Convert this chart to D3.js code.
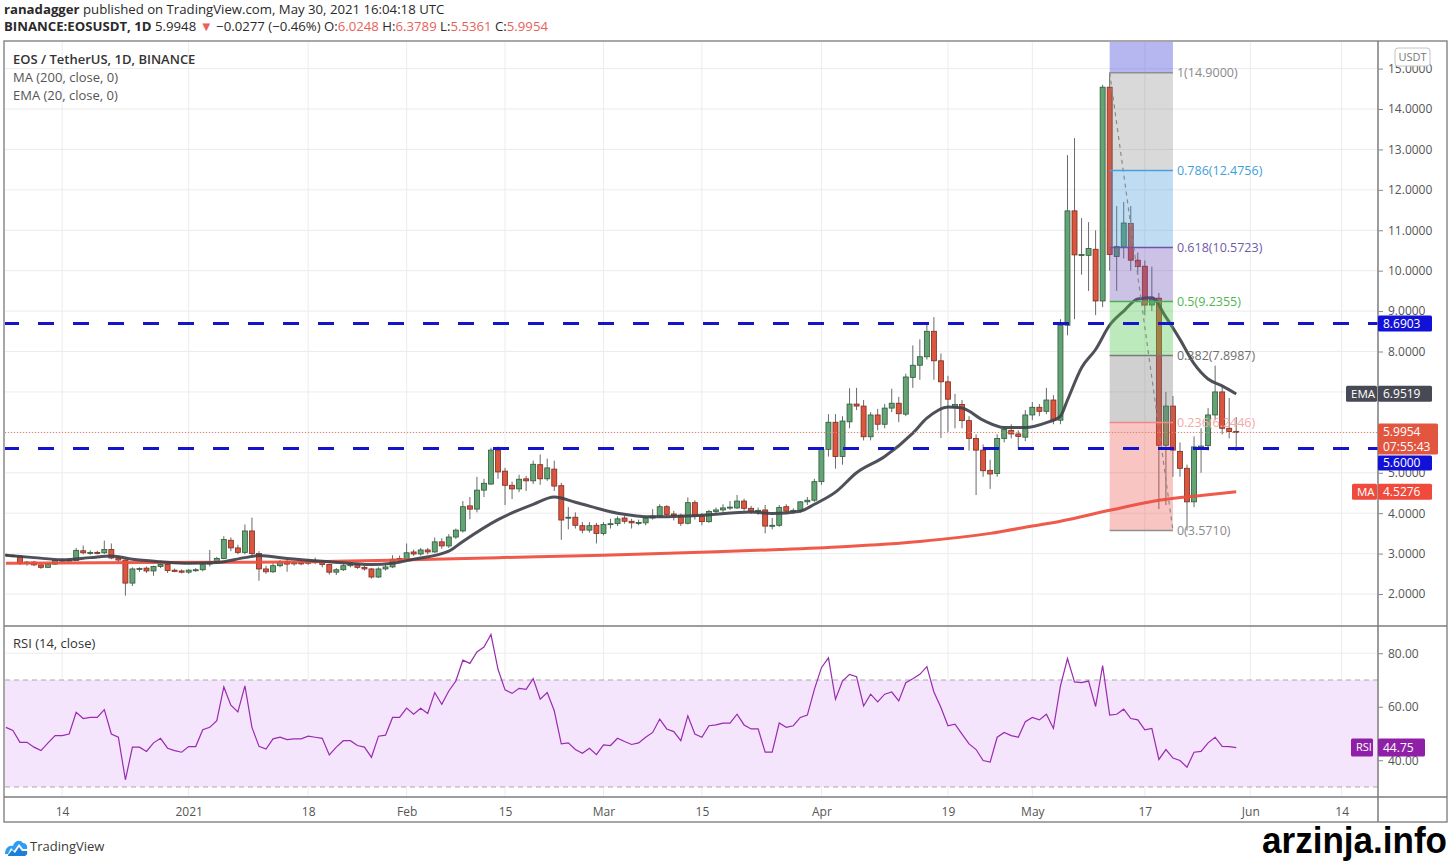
<!DOCTYPE html>
<html>
<head>
<meta charset="utf-8">
<script src="https://cdn.jsdelivr.net/npm/d3@7"></script>
<style>
  html, body { margin: 0; padding: 0; background: #fff; }
  svg { display: block; font-family: "Open Sans", "Noto Sans", sans-serif; }
</style>
</head>
<body>
<script>
var W = 1450, H = 864;

// first candle date; one candle per day
var firstDay = '2020-12-06';

// daily [open, high, low, close], Dec 6 2020 .. May 30 2021
var candles = [
  [2.97, 3.00, 2.93, 2.95], [2.95, 2.98, 2.91, 2.94], [2.94, 2.96, 2.72, 2.76], [2.76, 2.82, 2.70, 2.79],
  [2.79, 2.82, 2.69, 2.72], [2.72, 2.74, 2.62, 2.66], [2.66, 2.76, 2.64, 2.74], [2.74, 2.85, 2.72, 2.83],
  [2.83, 2.87, 2.79, 2.84], [2.84, 2.88, 2.80, 2.83], [2.83, 3.14, 2.82, 3.08], [3.07, 3.20, 2.98, 3.02],
  [3.02, 3.08, 2.97, 3.03], [3.03, 3.07, 2.98, 3.02], [3.02, 3.32, 2.99, 3.10], [3.10, 3.25, 2.86, 2.89],
  [2.89, 2.95, 2.80, 2.84], [2.84, 2.86, 1.96, 2.27], [2.27, 2.66, 2.20, 2.62], [2.62, 2.66, 2.55, 2.63],
  [2.64, 2.68, 2.52, 2.57], [2.57, 2.70, 2.45, 2.68], [2.68, 2.82, 2.64, 2.73], [2.73, 2.76, 2.52, 2.58],
  [2.59, 2.63, 2.54, 2.56], [2.57, 2.61, 2.51, 2.54], [2.54, 2.62, 2.50, 2.59], [2.59, 2.64, 2.55, 2.60],
  [2.60, 2.78, 2.56, 2.74], [2.74, 3.09, 2.68, 2.78], [2.78, 2.92, 2.74, 2.88], [2.88, 3.43, 2.86, 3.35],
  [3.33, 3.40, 3.06, 3.14], [3.14, 3.22, 2.98, 3.03], [3.03, 3.72, 2.98, 3.56], [3.56, 3.89, 2.95, 3.00],
  [3.00, 3.06, 2.33, 2.62], [2.62, 2.70, 2.50, 2.55], [2.55, 2.76, 2.52, 2.70], [2.70, 2.84, 2.66, 2.78],
  [2.80, 2.86, 2.55, 2.74], [2.76, 2.82, 2.70, 2.77], [2.77, 2.81, 2.71, 2.76], [2.76, 2.86, 2.72, 2.82],
  [2.82, 2.90, 2.74, 2.78], [2.78, 2.82, 2.66, 2.73], [2.73, 2.75, 2.48, 2.54], [2.54, 2.64, 2.47, 2.60],
  [2.60, 2.74, 2.57, 2.70], [2.70, 2.78, 2.66, 2.74], [2.73, 2.76, 2.62, 2.66], [2.66, 2.70, 2.58, 2.62],
  [2.62, 2.64, 2.38, 2.42], [2.42, 2.66, 2.40, 2.62], [2.62, 2.74, 2.58, 2.67], [2.67, 2.96, 2.64, 2.86],
  [2.88, 2.95, 2.80, 2.85], [2.86, 3.25, 2.82, 3.02], [3.04, 3.10, 2.94, 2.99], [2.99, 3.14, 2.95, 3.09],
  [3.09, 3.14, 2.98, 3.04], [3.04, 3.40, 3.02, 3.29], [3.29, 3.38, 3.12, 3.19], [3.19, 3.48, 3.14, 3.41],
  [3.41, 3.62, 3.36, 3.58], [3.56, 4.30, 3.52, 4.16], [4.18, 4.40, 3.85, 4.10], [4.10, 4.90, 4.02, 4.57],
  [4.57, 4.85, 4.40, 4.74], [4.72, 5.62, 4.70, 5.56], [5.56, 5.65, 4.85, 5.02], [5.04, 5.12, 4.20, 4.69],
  [4.69, 4.78, 4.35, 4.60], [4.60, 4.95, 4.52, 4.84], [4.85, 4.92, 4.55, 4.80], [4.80, 5.30, 4.72, 5.21],
  [5.20, 5.45, 4.70, 4.85], [4.85, 5.35, 4.80, 5.12], [5.09, 5.30, 4.55, 4.67], [4.68, 4.75, 3.34, 3.83],
  [3.88, 4.15, 3.60, 3.90], [3.90, 4.02, 3.62, 3.70], [3.69, 3.78, 3.50, 3.58], [3.58, 3.78, 3.52, 3.69],
  [3.70, 3.76, 3.25, 3.50], [3.50, 3.78, 3.45, 3.72], [3.72, 3.86, 3.62, 3.74], [3.74, 3.92, 3.68, 3.86],
  [3.88, 3.94, 3.74, 3.80], [3.80, 3.86, 3.62, 3.76], [3.76, 3.84, 3.70, 3.77], [3.76, 3.92, 3.70, 3.88],
  [3.88, 4.10, 3.84, 3.93], [3.93, 4.22, 3.88, 4.16], [4.16, 4.20, 3.92, 3.97], [3.98, 4.06, 3.82, 3.95],
  [3.95, 3.99, 3.68, 3.75], [3.75, 4.39, 3.72, 4.26], [4.26, 4.32, 3.84, 3.93], [3.93, 4.00, 3.70, 3.79],
  [3.79, 4.08, 3.76, 4.04], [4.04, 4.14, 3.96, 4.08], [4.08, 4.22, 4.02, 4.13], [4.13, 4.30, 4.08, 4.15],
  [4.13, 4.45, 4.10, 4.30], [4.30, 4.36, 4.06, 4.12], [4.12, 4.18, 3.98, 4.05], [4.05, 4.14, 3.96, 4.07],
  [4.08, 4.20, 3.50, 3.68], [3.68, 3.88, 3.60, 3.70], [3.70, 4.20, 3.66, 4.14], [4.16, 4.22, 4.00, 4.05],
  [4.05, 4.12, 3.98, 4.07], [4.07, 4.30, 4.02, 4.28], [4.28, 4.40, 4.20, 4.32], [4.32, 4.85, 4.28, 4.78],
  [4.78, 5.62, 4.70, 5.58], [5.58, 6.45, 5.40, 6.25], [6.25, 6.45, 5.10, 5.40], [5.40, 6.40, 5.20, 6.28],
  [6.26, 7.09, 6.10, 6.70], [6.70, 7.10, 6.55, 6.65], [6.65, 6.80, 5.80, 5.89], [5.89, 6.50, 5.80, 6.43],
  [6.43, 6.58, 6.05, 6.20], [6.20, 6.70, 6.10, 6.60], [6.60, 7.08, 6.50, 6.72], [6.72, 6.88, 6.25, 6.46],
  [6.45, 7.45, 6.40, 7.37], [7.36, 8.15, 7.10, 7.66], [7.66, 8.30, 7.30, 7.87], [7.87, 8.72, 7.80, 8.50],
  [8.50, 8.85, 7.30, 7.77], [7.77, 7.95, 5.86, 7.25], [7.25, 7.40, 6.01, 6.82], [6.62, 6.95, 6.10, 6.69],
  [6.69, 6.80, 6.10, 6.29], [6.29, 6.40, 5.55, 5.85], [5.85, 5.95, 4.45, 5.56], [5.56, 5.70, 4.90, 5.05],
  [5.06, 5.32, 4.60, 4.97], [4.98, 5.95, 4.90, 5.85], [5.85, 6.15, 5.75, 6.07], [6.05, 6.20, 5.85, 5.96],
  [5.96, 6.05, 5.60, 5.90], [5.88, 6.55, 5.78, 6.43], [6.43, 6.75, 6.30, 6.62], [6.62, 6.70, 6.40, 6.52],
  [6.52, 7.10, 6.45, 6.80], [6.80, 6.92, 6.20, 6.30], [6.30, 8.80, 6.20, 8.65], [8.65, 12.86, 8.40, 11.48],
  [11.48, 13.28, 8.80, 10.39], [10.38, 11.30, 9.90, 10.40], [10.38, 11.20, 9.50, 10.55], [10.53, 11.00, 8.90, 9.25],
  [9.25, 14.60, 9.10, 14.54], [14.54, 14.90, 10.00, 10.40], [10.35, 11.60, 9.50, 10.60], [10.59, 11.70, 10.30, 11.18],
  [11.17, 11.60, 10.00, 10.26], [10.26, 10.45, 9.90, 10.10], [10.11, 10.25, 8.90, 9.15], [9.15, 10.10, 9.00, 9.30],
  [9.32, 9.45, 4.10, 5.68], [5.68, 7.00, 4.20, 6.65], [6.65, 6.90, 4.90, 5.56], [5.53, 5.75, 4.90, 5.11],
  [5.11, 5.20, 3.571, 4.28], [4.28, 5.90, 4.15, 5.64], [5.62, 6.10, 5.00, 5.66], [5.67, 6.60, 5.55, 6.43],
  [6.43, 7.65, 6.30, 7.00], [7.00, 7.15, 5.95, 6.10], [6.10, 6.85, 5.85, 6.02], [6.0248, 6.3789, 5.5361, 5.9954]
];

// RSI(14) per candle
var rsi14 = [
  52.3, 51.1, 46.7, 46.7, 44.9, 43.6, 46.5, 49.2, 49.2, 49.8,
  57.9, 55.6, 56.0, 56.0, 58.9, 49.8, 48.6, 32.7, 44.9, 44.9,
  43.3, 46.5, 48.2, 44.5, 43.6, 43.0, 45.1, 45.1, 51.4, 52.3,
  54.8, 67.4, 60.6, 58.1, 67.8, 52.3, 45.2, 44.2, 48.0, 48.6,
  47.7, 48.0, 48.0, 49.0, 48.6, 48.2, 42.0, 44.9, 47.3, 47.3,
  45.5, 44.9, 41.1, 49.0, 49.4, 56.0, 56.0, 59.5, 57.2, 59.4,
  57.5, 65.3, 60.9, 65.9, 69.6, 77.4, 76.2, 80.5, 82.3, 87.0,
  74.0, 66.3, 65.0, 66.9, 66.5, 70.5, 62.8, 65.3, 58.5, 46.1,
  46.5, 44.0, 42.6, 44.5, 42.1, 45.7, 45.5, 48.2, 47.0, 45.9,
  46.5, 48.6, 50.4, 55.4, 51.7, 50.7, 47.3, 56.6, 49.8, 48.6,
  52.9, 53.2, 53.9, 53.9, 57.2, 53.2, 51.7, 51.7, 43.0, 43.0,
  53.9, 52.3, 52.9, 56.0, 56.9, 66.5, 74.6, 78.3, 62.8, 69.6,
  72.1, 71.2, 60.3, 64.7, 61.8, 64.7, 65.5, 62.2, 69.0, 70.5,
  72.1, 75.0, 65.5, 59.7, 52.9, 53.5, 49.8, 46.1, 44.0, 39.9,
  39.3, 48.6, 50.4, 49.2, 48.6, 54.4, 56.0, 55.1, 57.2, 51.9,
  67.8, 78.0, 69.3, 69.0, 69.6, 60.1, 75.4, 56.9, 57.2, 59.1,
  55.6, 55.1, 51.4, 51.9, 40.3, 44.0, 40.8, 39.9, 37.4, 43.0,
  43.3, 46.5, 48.6, 45.2, 45.1, 44.75
];

var ema20 = [
  [0, 2.96], [4, 2.90], [8, 2.85], [12, 2.90], [15, 2.94], [18, 2.86], [22, 2.80], [26, 2.76],
  [30, 2.78], [34, 2.90], [36, 2.95], [40, 2.88], [46, 2.80], [52, 2.73], [55, 2.76], [58, 2.86],
  [63, 3.06], [65, 3.30], [70, 3.84], [75, 4.22], [78, 4.40], [81, 4.27], [87, 4.00], [92, 3.91],
  [99, 3.95], [106, 4.03], [109, 3.99], [113, 4.05], [115, 4.22], [118, 4.52], [121, 5.00], [125, 5.40],
  [129, 5.98], [131, 6.35], [134, 6.63], [136, 6.60], [139, 6.30], [142, 6.12], [145, 6.12], [148, 6.24],
  [150, 6.40], [151, 6.80], [153, 7.60], [155, 8.05], [157, 8.65], [159, 9.00], [161, 9.30], [163, 9.33],
  [165, 8.85], [167, 8.30], [169, 7.70], [171, 7.32], [173, 7.15], [175, 6.95]
];
var ma200 = [
  [0, 2.76], [20, 2.78], [40, 2.79], [56, 2.84], [70, 2.90], [85, 2.96], [100, 3.04], [110, 3.10],
  [119, 3.17], [130, 3.30], [140, 3.50], [146, 3.68], [150, 3.80], [157, 4.07], [164, 4.32], [170, 4.44],
  [175, 4.5276]
];

var priceTicks = [2, 3, 4, 5, 6, 7, 8, 9, 10, 11, 12, 13, 14, 15];
var rsiTicks = [40, 60, 80];
var tickDates = ['2020-12-14', '2021-01-01', '2021-01-18', '2021-02-01', '2021-02-15', '2021-03-01', '2021-03-15',
                 '2021-04-01', '2021-04-19', '2021-05-01', '2021-05-17', '2021-06-01', '2021-06-14'];
var tickLabels = ['14', '2021', '18', 'Feb', '15', 'Mar', '15', 'Apr', '19', 'May', '17', 'Jun', '14'];

var levels = [8.6903, 5.6];          // dashed support / resistance
var lastClose = 5.9954, lastEma = 6.9519, lastMa = 4.5276, lastRsi = 44.75;

// fib retracement from the May high to the May low
var fibHigh = 14.9, fibLow = 3.571;
var fibFrom = '2021-05-12', fibTo = '2021-05-21';
var fibRatios = [1, 0.786, 0.618, 0.5, 0.382, 0.236, 0];
var fibLine = ['#8f8f8f', '#47a2dc', '#6a58a6', '#4caf50', '#7a7a7a', '#f08a84', '#8f8f8f'];
var fibText = ['#8a8a8a', '#3f9fd8', '#6f5aa8', '#4fb553', '#6f6f6f', '#f3aaa6', '#8a8a8a'];
var fibFill = ['rgba(80,80,220,0.42)', 'rgba(120,120,120,0.28)', 'rgba(60,150,220,0.33)', 'rgba(110,80,180,0.35)',
               'rgba(80,200,80,0.38)', 'rgba(120,120,120,0.35)', 'rgba(235,80,70,0.33)'];

// ---- layout
var L = 5, R = 1378, mainTop = 42, mainBot = 625, rsiTop = 627, rsiBot = 797, axisBot = 822;

var parse = d3.utcParse('%Y-%m-%d');
var day0 = parse(firstDay);

var x = d3.scaleUtc()
  .domain([d3.utcHour.offset(day0, -3), d3.utcHour.offset(day0, 4684)])
  .range([L, R]);
var y = d3.scaleLinear().domain([1.233, 15.658]).range([mainBot, mainTop]);
var yr = d3.scaleLinear().domain([26.26, 89.81]).range([rsiBot, rsiTop]);

function xi(i) { return x(d3.utcDay.offset(day0, i)); }

var svg = d3.select('body').append('svg').attr('width', W).attr('height', H);

var defs = svg.append('defs');
defs.append('clipPath').attr('id', 'clipMain')
  .append('rect').attr('x', L).attr('y', mainTop).attr('width', R - L).attr('height', mainBot - mainTop);
defs.append('clipPath').attr('id', 'clipRsi')
  .append('rect').attr('x', L).attr('y', rsiTop).attr('width', R - L).attr('height', rsiBot - rsiTop);

// ---- header
var head = svg.append('g').attr('font-size', 13.2).attr('fill', '#2a2a2a');
var t1 = head.append('text').attr('x', 4).attr('y', 14);
t1.append('tspan').attr('font-weight', 700).text('ranadagger');
t1.append('tspan').text(' published on TradingView.com, May 30, 2021 16:04:18 UTC');
var t2 = head.append('text').attr('x', 4).attr('y', 31);
var red = '#e8625a';
[['BINANCE:EOSUSDT, 1D', null, 700], [' 5.9948 ', null], ['▼', red], [' −0.0277 (−0.46%) O:', null],
 ['6.0248', red], [' H:', null], ['6.3789', red], [' L:', null], ['5.5361', red], [' C:', null], ['5.9954', red]]
  .forEach(function(p) {
    t2.append('tspan').attr('fill', p[1]).attr('font-weight', p[2] || null).text(p[0]);
  });

// ---- frame
svg.append('rect').attr('x', 4).attr('y', 41).attr('width', 1443).attr('height', axisBot - 41)
  .attr('fill', 'none').attr('stroke', '#8a8a8a').attr('stroke-width', 1.5);

// ---- grid
var grid = svg.append('g').attr('stroke', '#ececec').attr('stroke-width', 1);
priceTicks.forEach(function(v) {
  grid.append('line').attr('x1', L).attr('x2', R).attr('y1', y(v)).attr('y2', y(v));
});
rsiTicks.forEach(function(v) {
  grid.append('line').attr('x1', L).attr('x2', R).attr('y1', yr(v)).attr('y2', yr(v));
});
tickDates.forEach(function(d) {
  var xx = x(parse(d));
  grid.append('line').attr('x1', xx).attr('x2', xx).attr('y1', mainTop).attr('y2', mainBot);
  grid.append('line').attr('x1', xx).attr('x2', xx).attr('y1', rsiTop).attr('y2', rsiBot);
});

// ---- main pane
var main = svg.append('g').attr('clip-path', 'url(#clipMain)');

var up = { fill: '#62a474', stroke: '#2e5a3a' }, down = { fill: '#da563f', stroke: '#7e2b20' };

var cg = main.append('g').selectAll('g').data(candles).enter().append('g');
cg.append('line')
  .attr('x1', function(d, i) { return xi(i); })
  .attr('x2', function(d, i) { return xi(i); })
  .attr('y1', function(d) { return y(d[1]); })
  .attr('y2', function(d) { return y(d[2]); })
  .attr('stroke', '#6a6a6a').attr('stroke-width', 1);
cg.append('rect')
  .attr('x', function(d, i) { return xi(i) - 2.5; })
  .attr('width', 5)
  .attr('y', function(d) { return y(Math.max(d[0], d[3])); })
  .attr('height', function(d) { return Math.max(1, Math.abs(y(d[0]) - y(d[3]))); })
  .attr('fill', function(d) { return d[3] >= d[0] ? up.fill : down.fill; })
  .attr('stroke', function(d) { return d[3] >= d[0] ? up.stroke : down.stroke; })
  .attr('stroke-width', 0.8);

var lineGen = d3.line()
  .x(function(d) { return xi(d[0]); })
  .y(function(d) { return y(d[1]); })
  .curve(d3.curveMonotoneX);

main.append('path').datum(ma200).attr('d', lineGen)
  .attr('fill', 'none').attr('stroke', '#ee4c3c').attr('stroke-width', 3).attr('stroke-opacity', 0.92);
main.append('path').datum(ema20).attr('d', lineGen)
  .attr('fill', 'none').attr('stroke', '#40424b').attr('stroke-width', 3).attr('stroke-opacity', 0.92);

// fib retracement
var fx0 = x(parse(fibFrom)), fx1 = x(parse(fibTo));
function fibPrice(r) { return fibLow + r * (fibHigh - fibLow); }
var fib = main.append('g');
fib.append('rect').attr('x', fx0).attr('width', fx1 - fx0)
  .attr('y', mainTop).attr('height', y(fibHigh) - mainTop).attr('fill', fibFill[0]);
for (var k = 0; k < fibRatios.length - 1; k++) {
  var ya = y(fibPrice(fibRatios[k])), yb = y(fibPrice(fibRatios[k + 1]));
  fib.append('rect').attr('x', fx0).attr('width', fx1 - fx0)
    .attr('y', ya).attr('height', yb - ya).attr('fill', fibFill[k + 1]);
}
fib.append('line').attr('x1', fx0).attr('y1', y(fibHigh)).attr('x2', fx1).attr('y2', y(fibLow))
  .attr('stroke', '#8a8a8a').attr('stroke-width', 1.2).attr('stroke-dasharray', '4,4');
fibRatios.forEach(function(r, k) {
  var p = fibPrice(r);
  fib.append('line').attr('x1', fx0).attr('x2', fx1).attr('y1', y(p)).attr('y2', y(p))
    .attr('stroke', fibLine[k]).attr('stroke-width', 1.5);
  fib.append('text').attr('x', fx1 + 4).attr('y', y(p)).attr('dy', '0.35em')
    .attr('font-size', 12.5).attr('fill', fibText[k])
    .text(r + '(' + d3.format('.4f')(p) + ')');
});

// dashed levels and last price line
levels.forEach(function(v) {
  main.append('line').attr('x1', L - 2).attr('x2', R).attr('y1', y(v)).attr('y2', y(v))
    .attr('stroke', '#1414cc').attr('stroke-width', 3).attr('stroke-dasharray', '16,19');
});
main.append('line').attr('x1', L).attr('x2', R).attr('y1', y(lastClose)).attr('y2', y(lastClose))
  .attr('stroke', '#ee7f6c').attr('stroke-width', 1).attr('stroke-dasharray', '1,2');

// legend
var leg = svg.append('g').attr('font-size', 13);
leg.append('text').attr('x', 13).attr('y', 64).attr('fill', '#333').attr('font-weight', 600).text('EOS / TetherUS, 1D, BINANCE');
leg.append('text').attr('x', 13).attr('y', 82).attr('fill', '#555').text('MA (200, close, 0)');
leg.append('text').attr('x', 13).attr('y', 100).attr('fill', '#555').text('EMA (20, close, 0)');

// ---- RSI pane
var rp = svg.append('g').attr('clip-path', 'url(#clipRsi)');
rp.append('rect').attr('x', L).attr('width', R - L).attr('y', yr(70)).attr('height', yr(30) - yr(70))
  .attr('fill', '#f4e4fc');
[70, 30].forEach(function(v) {
  rp.append('line').attr('x1', L).attr('x2', R).attr('y1', yr(v)).attr('y2', yr(v))
    .attr('stroke', '#a9a9a9').attr('stroke-width', 1).attr('stroke-dasharray', '5,4');
});
rp.append('path').datum(rsi14)
  .attr('d', d3.line().x(function(d, i) { return xi(i); }).y(function(d) { return yr(d); }))
  .attr('fill', 'none').attr('stroke', '#9a2bb0').attr('stroke-width', 1.2);
svg.append('text').attr('x', 13).attr('y', 648).attr('font-size', 13).attr('fill', '#333').text('RSI (14, close)');

// ---- separators
var sep = svg.append('g').attr('stroke', '#7d7d7d').attr('stroke-width', 1.5);
sep.append('line').attr('x1', 4).attr('x2', 1447).attr('y1', 626).attr('y2', 626);
sep.append('line').attr('x1', 4).attr('x2', 1447).attr('y1', rsiBot).attr('y2', rsiBot);
sep.append('line').attr('x1', R).attr('x2', R).attr('y1', 41).attr('y2', axisBot);

// ---- axes
function styleAxis(g) {
  g.select('.domain').remove();
  g.selectAll('.tick line').attr('stroke', '#8a8a8a');
  g.selectAll('.tick text').attr('fill', '#555').attr('font-size', 12).attr('font-family', '"Open Sans", sans-serif');
}
// 6 and 7 sit fully under the EMA / last price tags, as in the snapshot
var covered = [6, 7];
svg.append('g').attr('transform', 'translate(' + R + ',0)')
  .call(d3.axisRight(y).tickValues(priceTicks)
    .tickFormat(function(v) { return covered.indexOf(v) >= 0 ? '' : d3.format('.4f')(v); })
    .tickSize(5).tickPadding(5))
  .call(styleAxis);
svg.append('g').attr('transform', 'translate(' + R + ',0)')
  .call(d3.axisRight(yr).tickValues(rsiTicks).tickFormat(d3.format('.2f')).tickSize(5).tickPadding(5))
  .call(styleAxis);
svg.append('g').attr('transform', 'translate(0,' + rsiBot + ')')
  .call(d3.axisBottom(x).tickValues(tickDates.map(parse))
    .tickFormat(function(d, i) { return tickLabels[i]; }).tickSize(0).tickPadding(10))
  .call(styleAxis);

// USDT badge
svg.append('rect').attr('x', 1395).attr('y', 48).attr('width', 35).attr('height', 18).attr('rx', 3)
  .attr('fill', '#fff').attr('stroke', '#c4c4c4');
svg.append('text').attr('x', 1412.5).attr('y', 61).attr('text-anchor', 'middle')
  .attr('font-size', 11).attr('fill', '#777').text('USDT');

// ---- axis value labels
function tag(xx, yc, w, h, fill, lines, size) {
  svg.append('rect').attr('x', xx).attr('y', yc - h / 2).attr('width', w).attr('height', h)
    .attr('rx', 1.5).attr('fill', fill);
  lines.forEach(function(t, j) {
    svg.append('text').attr('x', xx + 5).attr('y', yc - (lines.length - 1) * 7.5 + j * 15).attr('dy', '0.36em')
      .attr('font-size', size || 12).attr('fill', '#fff').text(t);
  });
}
tag(R, y(8.6903), 54, 16, '#1111d8', ['8.6903']);
tag(R - 32, y(lastEma), 31, 16, '#474a54', ['EMA'], 11.5);
tag(R, y(lastEma), 54, 16, '#474a54', [d3.format('.4f')(lastEma)]);
// last price tag sits on its line; the 5.6000 tag is pushed just below it
var pTop = y(lastClose) - 9;
tag(R, pTop + 15.5, 60, 31, '#e2563f', [d3.format('.4f')(lastClose), '07:55:43']);
tag(R, pTop + 31 + 8.5, 54, 15, '#1111d8', ['5.6000']);
tag(R - 26, y(lastMa), 25, 16, '#ef4a3c', ['MA'], 11.5);
tag(R, y(lastMa), 54, 16, '#ef4a3c', [d3.format('.4f')(lastMa)]);
tag(R - 27, yr(lastRsi), 22, 18, '#8e1fa6', ['RSI'], 11);
tag(R, yr(lastRsi), 47, 18, '#8e1fa6', [d3.format('.2f')(lastRsi)]);

// ---- footer
var logo = svg.append('g').attr('transform', 'translate(5,838)');
logo.append('path')
  .attr('d', 'M0,16 C0,10 4,7 8,8 C9,3 15,1 18,5 C21,5 23,8 22,11 L18,11 L14,6 L9,13 L6,10 L3,16 Z')
  .attr('fill', '#2e9df3');
logo.append('path').attr('d', 'M3,17 L7,12 L10,15 L14,9 L17,13 L22,13 C23,16 21,18 19,18 L3,18 Z').attr('fill', '#1d7fd6');
svg.append('text').attr('x', 30).attr('y', 851).attr('font-size', 13).attr('fill', '#3a3a3a').text('TradingView');
svg.append('text').attr('x', 1262).attr('y', 853).attr('font-size', 36).attr('font-weight', 900)
  .attr('font-family', '"Liberation Sans", Arial, sans-serif').attr('fill', '#000')
  .attr('textLength', 185).attr('lengthAdjust', 'spacingAndGlyphs').text('arzinja.info');
</script>
</body>
</html>
